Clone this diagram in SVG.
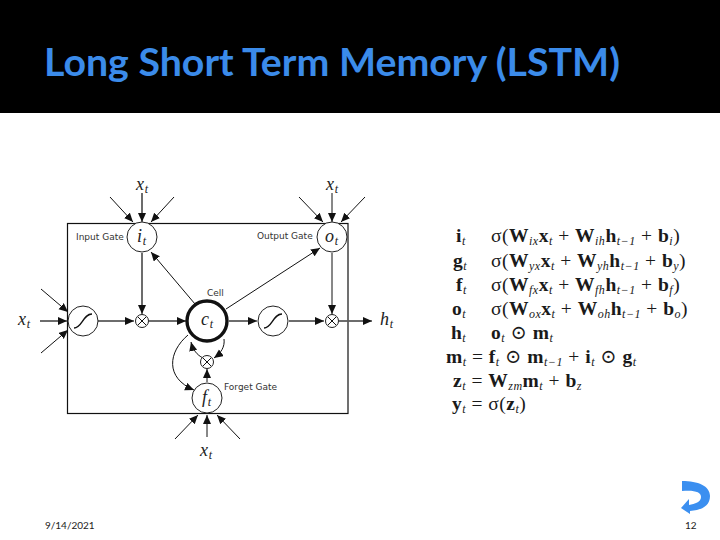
<svg xmlns="http://www.w3.org/2000/svg" width="720" height="540" viewBox="0 0 720 540">
<style>
.title{font:bold 39px Lato,"Liberation Sans",sans-serif;fill:#3b8bea}
.foot{font:10px Lato,"Liberation Sans",sans-serif;fill:#222}
.lab{font:9px "DejaVu Sans",sans-serif;fill:#333}
.m{font:italic 18px "Liberation Serif",serif;fill:#222;letter-spacing:.8px}
.sm{font-size:12px}
.n{fill:#fff;stroke:#222;stroke-width:1}
.t{fill:none;stroke:#111;stroke-width:1;marker-end:url(#a)}
.g{fill:none;stroke:#bbb;stroke-width:1.6}
.e{font:19.5px "Liberation Serif","DejaVu Serif",serif;fill:#1a1a1a;letter-spacing:.5px}
.e .b{font-weight:bold}
.e .s{font-size:12px;font-style:italic}
</style>
<defs>
<marker id="a" markerUnits="userSpaceOnUse" markerWidth="10" markerHeight="9" refX="9" refY="4" orient="auto"><path d="M0 0L9 4L0 8z" fill="#111"/></marker>
</defs>
<rect width="720" height="540" fill="#fff"/>
<rect width="720" height="113" fill="#000"/>
<text class="title" x="44" y="76" textLength="576" lengthAdjust="spacingAndGlyphs">Long Short Term Memory (LSTM)</text>
<rect x="67.5" y="223.5" width="280.5" height="190" fill="none" stroke="#111" stroke-width="1.2"/>
<g id="connectors">
<path class="g" d="M142 193V213"/><path class="t" d="M142 193V222"/>
<path class="t" d="M110 197L133 222"/><path class="t" d="M174 197L151 222"/>
<path class="t" d="M332 193V222"/><path class="t" d="M299 197L323 222"/><path class="t" d="M365 197L341 222"/>
<path class="t" d="M41 289L68 312"/><path class="t" d="M41 353L68 330"/>
<path class="g" d="M40 321H60"/><path class="t" d="M40 321H67"/>
<path class="g" d="M142 253V305"/><path class="t" d="M142 253V314"/>
<path class="t" d="M332 253V314"/>
<path class="t" d="M195 304L151 252"/>
<path class="t" d="M226 309L320 248"/>
<path class="g" d="M98 321H125"/><path class="t" d="M98 321H134"/>
<path class="g" d="M149 321H178"/><path class="t" d="M149 321H186"/>
<path class="g" d="M229 321H250"/><path class="t" d="M229 321H257"/>
<path class="g" d="M289 321H315"/><path class="t" d="M289 321H324"/>
<path class="g" d="M339 321H365"/><path class="t" d="M339 321H372"/>
<path class="t" d="M207 382V369"/>
<path class="t" d="M188 335C168 352 165 378 194 390"/>
<path class="t" d="M203 358C197 355 193 350 191 342"/>
<path class="t" d="M224 339C225 347 221 353 214 358"/>
<path class="t" d="M207 437V415"/>
<path class="t" d="M175 439L198 415"/>
<path class="t" d="M240 439L217 415"/>
</g>
<g id="input-gate"><circle class="n" cx="142" cy="237" r="15"/><text class="m" x="137" y="242">i<tspan class="sm" dy="3">t</tspan></text><text class="lab" x="76" y="240">Input Gate</text></g>
<g id="output-gate"><circle class="n" cx="332" cy="237" r="15"/><text class="m" x="325" y="242">o<tspan class="sm" dy="3">t</tspan></text><text class="lab" x="257" y="239">Output Gate</text></g>
<g id="sigmoid-in"><circle class="n" cx="83" cy="321" r="15"/><path d="M74 328C82 328 83 314 92 314" fill="none" stroke="#111" stroke-width="1.4"/></g>
<g id="mult-in"><circle class="n" cx="142" cy="321" r="6.5"/><path d="M138 317L146 325M146 317L138 325" stroke="#111" stroke-width="1"/></g>
<g id="cell"><circle cx="207" cy="321" r="20" fill="#fff" stroke="#111" stroke-width="3.4"/><text class="m" x="201" y="325">c<tspan class="sm" dy="3">t</tspan></text><text class="lab" x="207" y="296">Cell</text></g>
<g id="sigmoid-out"><circle class="n" cx="273" cy="321" r="15"/><path d="M264 328C272 328 273 314 282 314" fill="none" stroke="#111" stroke-width="1.4"/></g>
<g id="mult-out"><circle class="n" cx="332" cy="321" r="6.5"/><path d="M328 317L336 325M336 317L328 325" stroke="#111" stroke-width="1"/></g>
<g id="mult-forget"><circle class="n" cx="207" cy="362" r="6.5"/><path d="M203 358L211 366M211 358L203 366" stroke="#111" stroke-width="1"/></g>
<g id="forget-gate"><circle class="n" cx="207" cy="398" r="15"/><text class="m" x="202" y="403">f<tspan class="sm" dy="3">t</tspan></text><text class="lab" x="224" y="390">Forget Gate</text></g>
<g id="inputs">
<text class="m" x="136" y="190">x<tspan class="sm" dy="3">t</tspan></text>
<text class="m" x="326" y="190">x<tspan class="sm" dy="3">t</tspan></text>
<text class="m" x="18" y="325">x<tspan class="sm" dy="3">t</tspan></text>
<text class="m" x="380" y="325">h<tspan class="sm" dy="3">t</tspan></text>
<text class="m" x="200" y="456">x<tspan class="sm" dy="3">t</tspan></text>
</g>
<g id="equations">
<text class="e" x="456" y="242"><tspan class="b">i</tspan><tspan class="s" dy="3">t</tspan></text>
<text class="e" x="491" y="242">σ(<tspan class="b">W</tspan><tspan class="s" dy="3">ix</tspan><tspan class="b" dy="-3">x</tspan><tspan class="s" dy="3">t</tspan><tspan dy="-3"> + </tspan><tspan class="b">W</tspan><tspan class="s" dy="3">ih</tspan><tspan class="b" dy="-3">h</tspan><tspan class="s" dy="3">t−1</tspan><tspan dy="-3"> + </tspan><tspan class="b">b</tspan><tspan class="s" dy="3">i</tspan><tspan dy="-3">)</tspan></text>
<text class="e" x="453" y="267"><tspan class="b">g</tspan><tspan class="s" dy="3">t</tspan></text>
<text class="e" x="491" y="267">σ(<tspan class="b">W</tspan><tspan class="s" dy="3">yx</tspan><tspan class="b" dy="-3">x</tspan><tspan class="s" dy="3">t</tspan><tspan dy="-3"> + </tspan><tspan class="b">W</tspan><tspan class="s" dy="3">yh</tspan><tspan class="b" dy="-3">h</tspan><tspan class="s" dy="3">t−1</tspan><tspan dy="-3"> + </tspan><tspan class="b">b</tspan><tspan class="s" dy="3">y</tspan><tspan dy="-3">)</tspan></text>
<text class="e" x="456" y="291"><tspan class="b">f</tspan><tspan class="s" dy="3">t</tspan></text>
<text class="e" x="491" y="291">σ(<tspan class="b">W</tspan><tspan class="s" dy="3">fx</tspan><tspan class="b" dy="-3">x</tspan><tspan class="s" dy="3">t</tspan><tspan dy="-3"> + </tspan><tspan class="b">W</tspan><tspan class="s" dy="3">fh</tspan><tspan class="b" dy="-3">h</tspan><tspan class="s" dy="3">t−1</tspan><tspan dy="-3"> + </tspan><tspan class="b">b</tspan><tspan class="s" dy="3">f</tspan><tspan dy="-3">)</tspan></text>
<text class="e" x="452" y="315"><tspan class="b">o</tspan><tspan class="s" dy="3">t</tspan></text>
<text class="e" x="491" y="315">σ(<tspan class="b">W</tspan><tspan class="s" dy="3">ox</tspan><tspan class="b" dy="-3">x</tspan><tspan class="s" dy="3">t</tspan><tspan dy="-3"> + </tspan><tspan class="b">W</tspan><tspan class="s" dy="3">oh</tspan><tspan class="b" dy="-3">h</tspan><tspan class="s" dy="3">t−1</tspan><tspan dy="-3"> + </tspan><tspan class="b">b</tspan><tspan class="s" dy="3">o</tspan><tspan dy="-3">)</tspan></text>
<text class="e" x="451" y="339"><tspan class="b">h</tspan><tspan class="s" dy="3">t</tspan></text>
<text class="e" x="491" y="339"><tspan class="b">o</tspan><tspan class="s" dy="3">t</tspan><tspan dy="-3"> ⊙ </tspan><tspan class="b">m</tspan><tspan class="s" dy="3">t</tspan></text>
<text class="e" x="446" y="363"><tspan class="b">m</tspan><tspan class="s" dy="3">t</tspan><tspan dy="-3"> = </tspan><tspan class="b">f</tspan><tspan class="s" dy="3">t</tspan><tspan dy="-3"> ⊙ </tspan><tspan class="b">m</tspan><tspan class="s" dy="3">t−1</tspan><tspan dy="-3"> + </tspan><tspan class="b">i</tspan><tspan class="s" dy="3">t</tspan><tspan dy="-3"> ⊙ </tspan><tspan class="b">g</tspan><tspan class="s" dy="3">t</tspan></text>
<text class="e" x="453" y="387"><tspan class="b">z</tspan><tspan class="s" dy="3">t</tspan><tspan dy="-3"> = </tspan><tspan class="b">W</tspan><tspan class="s" dy="3">zm</tspan><tspan class="b" dy="-3">m</tspan><tspan class="s" dy="3">t</tspan><tspan dy="-3"> + </tspan><tspan class="b">b</tspan><tspan class="s" dy="3">z</tspan></text>
<text class="e" x="452" y="410"><tspan class="b">y</tspan><tspan class="s" dy="3">t</tspan><tspan dy="-3"> = σ(</tspan><tspan class="b">z</tspan><tspan class="s" dy="3">t</tspan><tspan dy="-3">)</tspan></text>
</g>
<path d="M682 481L682 491C695 490 701 492 701 497C701 502 695 504 689 505L689 499L681 508L690 514L690 511C702 510 710 506 710 496C710 486 698 481 682 481Z" fill="#3b8ff0"/>
<text class="foot" x="45" y="529">9/14/2021</text>
<text class="foot" x="685" y="529">12</text>
</svg>
